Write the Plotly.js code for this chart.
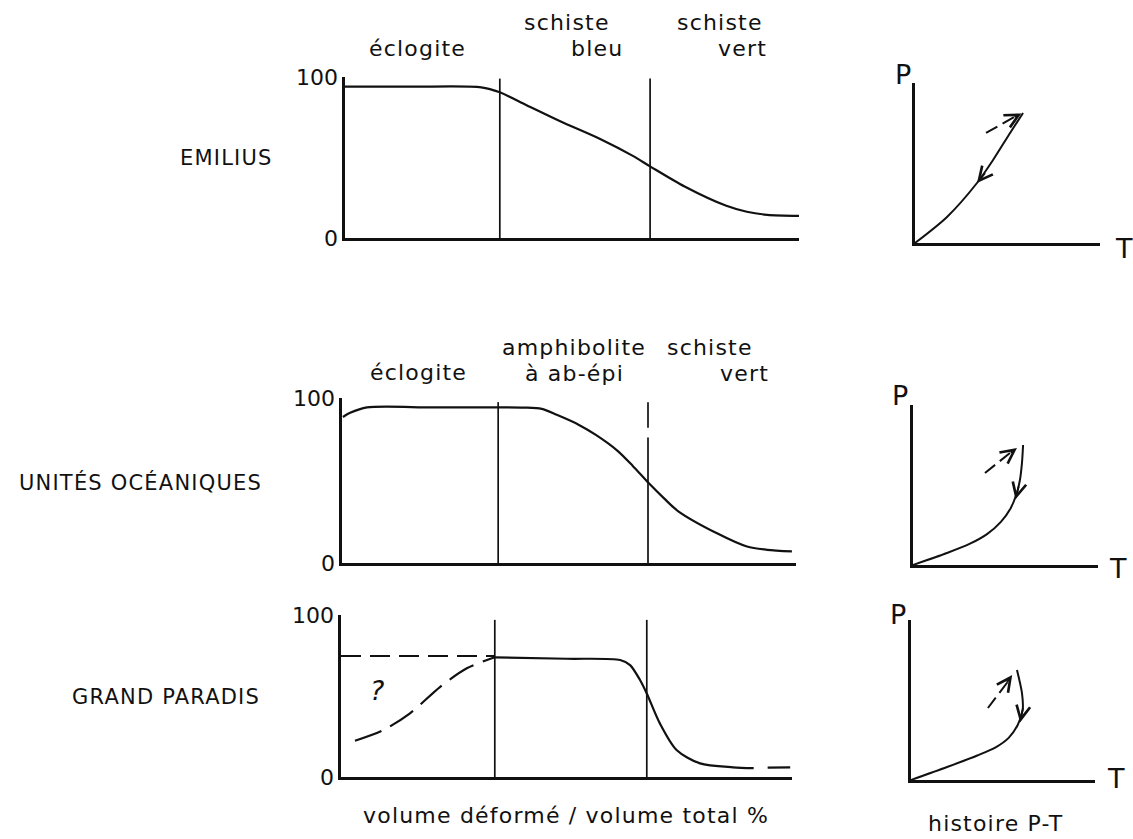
<!DOCTYPE html>
<html>
<head>
<meta charset="utf-8">
<script src="https://cdn.plot.ly/plotly-3.0.1.min.js"></script>
<style>
html,body{margin:0;padding:0;background:#fff;}
#chart{width:1133px;height:839px;}
.annotation-text { letter-spacing: 1.2px; }
</style>
</head>
<body>
<div id="chart"></div>
<script>
// ---------- data ----------
const units = ['EMILIUS', 'UNITÉS OCÉANIQUES', 'GRAND PARADIS'];
const phaseLabels1 = ['éclogite', 'schiste', 'bleu', 'schiste', 'vert'];
const phaseLabels2 = ['éclogite', 'amphibolite', 'à ab-épi', 'schiste', 'vert'];
const xTitle = 'volume déformé / volume total %';
const ptTitle = 'histoire P-T';
const yTickVals = [0, 100];
const yTickText = ['0', '100'];

// Emilius
const boundaries1 = [34.1, 67.2];
const emiliusX = [0, 15, 30, 34.1, 40, 47.4, 56.2, 63.4, 67.2, 74.8, 84, 88.5, 93, 100];
const emiliusY = [94, 94, 93.6, 90.5, 82.5, 72.5, 61.5, 51, 44.5, 32, 20, 16.3, 14.4, 13.8];

// Unités océaniques
const boundaries2 = [34.4, 67.4];
const oceanX = [0.2, 1.8, 5.5, 20, 40, 44, 47.3, 52, 56, 60.7, 64, 67.6, 71, 74, 82.6, 89.2, 93.6, 99.1];
const oceanY = [88.5, 91, 94.3, 94.3, 94.2, 93.4, 89.8, 84, 77.5, 68, 59, 48.3, 39, 31.5, 18, 10, 8, 7];

// Grand Paradis
const boundaries3 = [34.1, 67.8];
const gpSolidX = [34.1, 50, 61.9, 64.1, 66.3, 67.8, 70.7, 74.4, 79.6, 86.9, 91.5];
const gpSolidY = [73.9, 73, 72.2, 69.1, 59.9, 51.6, 33.1, 16.7, 8.4, 6, 5.5];
const gpTopDashX = [0, 34.1];
const gpTopDashY = [74.7, 74.7];
const gpRiseX = [3.1, 9.4, 15.3, 22, 27.9, 34.1];
const gpRiseY = [22.4, 29, 39.3, 55.7, 67.1, 73.9];
const gpTailX = [94.6, 99.6];
const gpTailY = [5.8, 6];

// P-T paths
const pt1X = [0, 17.3, 33.5, 42.2, 51.4, 58.4];
const pt1Y = [0, 16.3, 37.5, 51.9, 68.8, 81.3];
const pt1ProgX = [38.4, 55];
const pt1ProgY = [68.8, 79.6];
const pt2X = [0, 18.4, 30.8, 40, 47.5, 52.8, 56, 57.8, 58.9, 59.5];
const pt2Y = [0, 7.5, 13.3, 19.3, 27, 35.5, 44.5, 53.1, 63.8, 75];
const pt2ProgX = [38.9, 54];
const pt2ProgY = [57.5, 71.5];
const pt3X = [0, 19.6, 36, 46, 53.2, 58, 60.7, 60.3, 57.6];
const pt3Y = [0, 8.1, 15.3, 20.4, 26.5, 34.4, 43.8, 54.4, 68.8];
const pt3ProgX = [41.8, 53];
const pt3ProgY = [45, 62];

// ---------- layout helpers ----------
const W = 1133, H = 839;
const px = x => x / W;
const py = y => 1 - y / H;
const INK = '#111';
const FONT = 'DejaVu Sans, sans-serif';

function line(x, y, xa, ya, w, dash, smooth) {
  return {x: x, y: y, xaxis: xa, yaxis: ya, type: 'scatter', mode: 'lines',
          line: {color: INK, width: w, shape: 'spline', smoothing: smooth === undefined ? 0.8 : smooth, dash: dash || 'solid'},
          hoverinfo: 'skip', showlegend: false, cliponaxis: false};
}

const traces = [
  line(emiliusX, emiliusY, 'x', 'y', 2.2),
  line(oceanX, oceanY, 'x2', 'y2', 2.2),
  line(gpSolidX, gpSolidY, 'x3', 'y3', 2.2),
  line(gpTopDashX, gpTopDashY, 'x3', 'y3', 2.2, '20px,9px'),
  line(gpRiseX, gpRiseY, 'x3', 'y3', 2.2, '28px,10px'),
  line(gpTailX, gpTailY, 'x3', 'y3', 2.2),
  line(pt1X, pt1Y, 'x4', 'y4', 2),
  line(pt1ProgX, pt1ProgY, 'x4', 'y4', 2, '13px,6px'),
  line(pt2X, pt2Y, 'x5', 'y5', 2),
  line(pt2ProgX, pt2ProgY, 'x5', 'y5', 2, '13px,6px'),
  line(pt3X, pt3Y, 'x6', 'y6', 2),
  line(pt3ProgX, pt3ProgY, 'x6', 'y6', 2, '13px,6px')
];

function xax(l, r, anchor) {
  return {domain: [px(l), px(r)], range: [0, 100], anchor: anchor, showgrid: false, zeroline: false,
          showline: true, linecolor: INK, linewidth: 2.6, showticklabels: false, ticks: '', fixedrange: true};
}
function yax(bottom, top, anchor, labels) {
  return {domain: [py(bottom), py(top)], range: [0, 100], anchor: anchor, showgrid: false, zeroline: false,
          showline: true, linecolor: INK, linewidth: 2.6, ticks: '',
          showticklabels: !!labels, tickvals: yTickVals, ticktext: yTickText,
          tickfont: {family: FONT, size: 22, color: INK}, ticklabelstandoff: 0, fixedrange: true};
}

const shapes = [];
function vline(xv, y0, y1, xa, ya) {
  shapes.push({type: 'line', xref: xa, yref: ya, x0: xv, x1: xv, y0: y0, y1: y1,
               line: {color: INK, width: 1.7}});
}
vline(boundaries1[0], 0, 99, 'x', 'y');
vline(boundaries1[1], 0, 99, 'x', 'y');
vline(boundaries2[0], 0, 97.5, 'x2', 'y2');
vline(boundaries2[1], 0, 76, 'x2', 'y2');
vline(boundaries2[1], 82, 97.5, 'x2', 'y2');
vline(boundaries3[0], 0, 97, 'x3', 'y3');
vline(boundaries3[1], 0, 97, 'x3', 'y3');

const annotations = [];
function txt(t, x, y, size, opts) {
  annotations.push(Object.assign({text: t, x: px(x), y: py(y), xref: 'paper', yref: 'paper',
    showarrow: false, xanchor: 'center', yanchor: 'middle',
    font: {family: FONT, size: size, color: INK}}, opts || {}));
}
function arrow(x, y, ax, ay, xa, ya) {
  annotations.push({x: x, y: y, ax: ax, ay: ay, xref: xa, yref: ya, axref: xa, ayref: ya,
    text: '', showarrow: true, arrowhead: 5, arrowsize: 1.5, arrowwidth: 1.8, arrowcolor: INK, standoff: 0});
}

// unit names
txt(units[0], 226, 158, 21);
txt(units[1], 140, 482, 21);
txt(units[2], 166, 697, 21);

// phase labels panel 1
txt(phaseLabels1[0], 417, 49, 22);
txt(phaseLabels1[1], 567, 23, 22);
txt(phaseLabels1[2], 597, 49, 22);
txt(phaseLabels1[3], 720, 23, 22);
txt(phaseLabels1[4], 742, 49, 22);
// phase labels panel 2
txt(phaseLabels2[0], 418, 372, 22);
txt(phaseLabels2[1], 574, 347, 22);
txt(phaseLabels2[2], 574, 373, 22);
txt(phaseLabels2[3], 710, 347, 22);
txt(phaseLabels2[4], 744, 373, 22);

// question mark
txt('<i>?</i>', 378, 690, 27);

// bottom titles
txt(xTitle, 566, 815, 22);
txt(ptTitle, 995, 823, 22);

// P / T labels
txt('P', 903, 74, 27); txt('T', 1124, 248, 27);
txt('P', 900, 395, 27); txt('T', 1118, 568, 27);
txt('P', 898, 614, 27); txt('T', 1116, 778, 27);

// arrows on P-T paths
arrow(33.5, 37.5, 38.5, 44.6, 'x4', 'y4');
arrow(57.5, 81, 53, 78.2, 'x4', 'y4');
arrow(55.4, 41, 57.3, 50, 'x5', 'y5');
arrow(56.2, 73.1, 52, 69.5, 'x5', 'y5');
arrow(59.3, 36, 61, 46, 'x6', 'y6');
arrow(55, 65.6, 51.5, 60, 'x6', 'y6');

const layout = {
  width: W, height: H, margin: {l: 0, r: 0, t: 0, b: 0},
  paper_bgcolor: '#fff', plot_bgcolor: 'rgba(0,0,0,0)', showlegend: false, hovermode: false,
  xaxis: xax(345, 799, 'y'), yaxis: yax(238, 77, 'x', true),
  xaxis2: xax(342, 796, 'y2'), yaxis2: yax(563, 398, 'x2', true),
  xaxis3: xax(341, 792, 'y3'), yaxis3: yax(777, 615, 'x3', true),
  xaxis4: xax(915, 1100, 'y4'), yaxis4: yax(243, 83, 'x4', false),
  xaxis5: xax(913, 1098, 'y5'), yaxis5: yax(565, 405, 'x5', false),
  xaxis6: xax(911, 1095, 'y6'), yaxis6: yax(780, 620, 'x6', false),
  shapes: shapes, annotations: annotations
};

Plotly.newPlot('chart', traces, layout, {staticPlot: true, displayModeBar: false});
</script>
</body>
</html>
